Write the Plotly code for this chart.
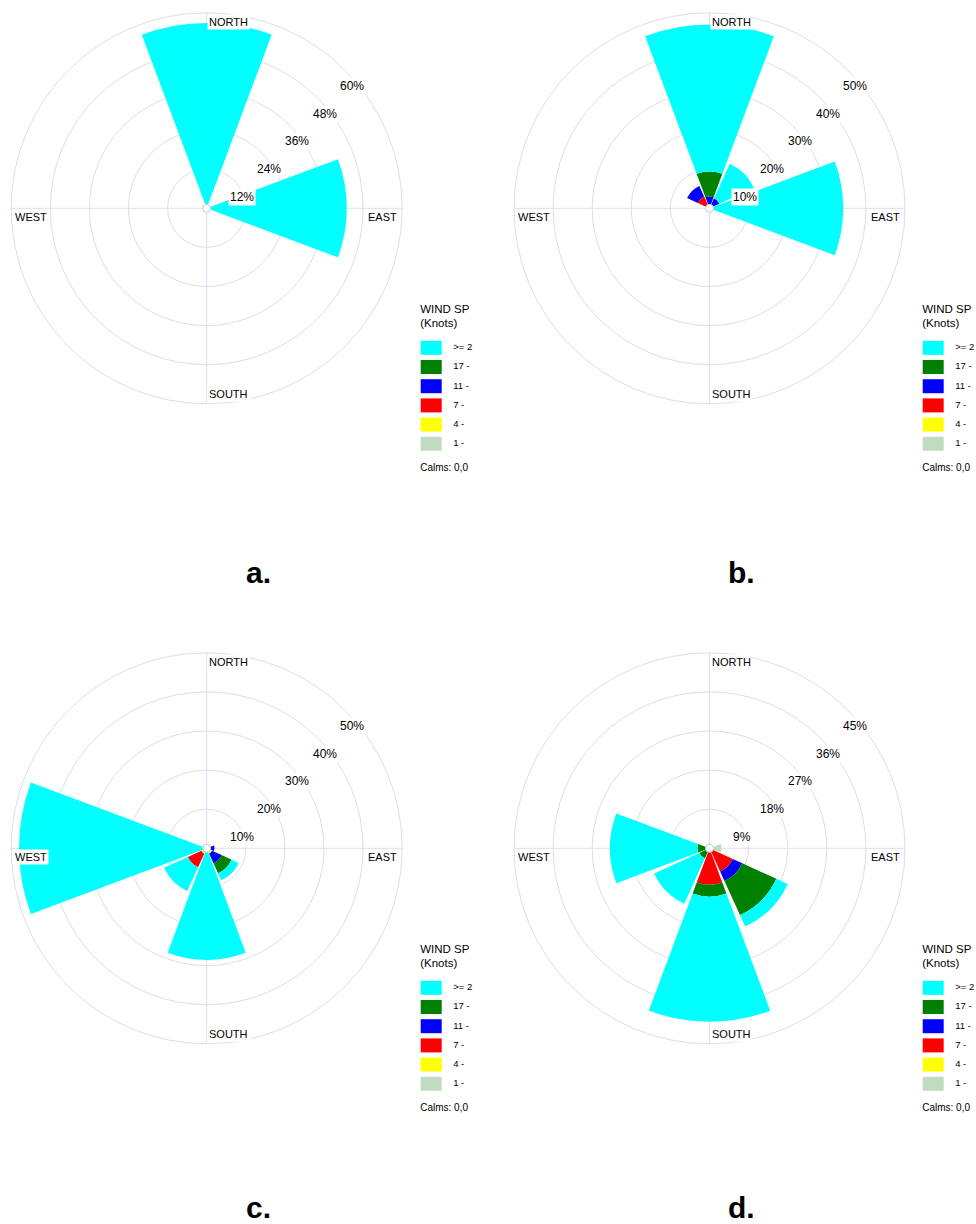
import plotly.graph_objects as go

# ---------------------------------------------------------------- data
DIRECTIONS = ["N", "NE", "E", "SE", "S", "SW", "W", "NW"]
BEARINGS = [0, 45, 90, 135, 180, 225, 270, 315]

# speed classes (knots), innermost first
SPEED_CLASSES = ["1 - 4", "4 - 7", "7 - 11", "11 - 17", "17 - 21", ">= 21"]
CLASS_COLORS = ["#C0DCC0", "#FFFF00", "#FF0000", "#0000FF", "#008000", "#00FFFF"]
# legend text as it appears in the narrow legend strip (top row first)
LEGEND_LABELS = [">= 2", "17 -", "11 -", "7 -", "4 -", "1 -"]
LEGEND_TITLE = ["WIND SP", "(Knots)"]
CALMS_TEXT = "Calms: 0,0"

# frequency (%) by direction, one list per speed class
A_1_4 = [0, 0, 0, 0, 0, 0, 0, 0]
A_4_7 = [0, 0, 0, 0, 0, 0, 0, 0]
A_7_11 = [0, 0, 0, 0, 0, 0, 0, 0]
A_11_17 = [0, 0, 0, 0, 0, 0, 0, 0]
A_17_21 = [0, 0, 0, 0, 0, 0, 0, 0]
A_GE21 = [56.9, 0, 43.0, 0, 0, 0, 0, 0]

B_1_4 = [0, 0, 0, 0, 0, 0, 0, 0]
B_4_7 = [0, 0, 0, 0, 0, 0, 0, 0]
B_7_11 = [0, 0, 0, 0, 0, 0, 0, 3.3]
B_11_17 = [3.0, 2.8, 0, 0, 0, 0, 0, 3.0]
B_17_21 = [6.4, 0, 0, 0, 0, 0, 0, 0]
B_GE21 = [37.6, 9.7, 34.2, 0, 0, 0, 0, 0]

C_1_4 = [0, 0, 0, 0, 0, 0, 0, 0]
C_4_7 = [0, 0, 0, 1.5, 0, 1.5, 0, 0]
C_7_11 = [0, 0, 0, 0, 0, 3.8, 0, 0]
C_11_17 = [0, 0, 2.0, 2.7, 0, 0, 0, 0]
C_17_21 = [0, 0, 0, 2.8, 0, 0, 0, 0]
C_GE21 = [0, 0, 0, 2.0, 28.5, 6.7, 48.0, 0]

D_1_4 = [0, 0, 2.8, 0, 0, 0, 0, 0]
D_4_7 = [0, 0, 0, 0, 0, 0, 0, 0]
D_7_11 = [0, 0, 0, 5.9, 8.4, 0, 0, 0]
D_11_17 = [0, 0, 0, 2.4, 0, 0, 0, 0]
D_17_21 = [0, 0, 0, 8.6, 2.7, 2.6, 2.8, 0]
D_GE21 = [0, 0, 0, 2.9, 28.8, 11.4, 20.1, 0]

A_TICKS = [12, 24, 36, 48, 60]
B_TICKS = [10, 20, 30, 40, 50]
C_TICKS = [10, 20, 30, 40, 50]
D_TICKS = [9, 18, 27, 36, 45]

COMPASS_LABELS = ["NORTH", "EAST", "SOUTH", "WEST"]
PANEL_LETTERS = ["a.", "b.", "c.", "d."]

# ---------------------------------------------------------------- layout
FIG_W, FIG_H = 976, 1224
FONT = "Liberation Sans, Arial, sans-serif"
GRID = "#DCDCF0"
RADIUS = 195.5
SECTOR_WIDTH = 41

panels = [
    dict(series=[A_1_4, A_4_7, A_7_11, A_11_17, A_17_21, A_GE21], ticks=A_TICKS,
         center=(206.7, 208.3), legend_x=(415, 476), letter_x=258.5, letter_y=572, dy=0),
    dict(series=[B_1_4, B_4_7, B_7_11, B_11_17, B_17_21, B_GE21], ticks=B_TICKS,
         center=(709.5, 208.3), legend_x=(917, 976), letter_x=741, letter_y=572, dy=0),
    dict(series=[C_1_4, C_4_7, C_7_11, C_11_17, C_17_21, C_GE21], ticks=C_TICKS,
         center=(206.7, 848.3), legend_x=(415, 476), letter_x=258.5, letter_y=1207, dy=640),
    dict(series=[D_1_4, D_4_7, D_7_11, D_11_17, D_17_21, D_GE21], ticks=D_TICKS,
         center=(709.5, 848.3), legend_x=(917, 976), letter_x=741, letter_y=1207, dy=640),
]


def px(x):
    return x / FIG_W


def py(y):
    return 1 - y / FIG_H


fig = go.Figure()
annotations = []
shapes = []
layout = {}

for i, p in enumerate(panels):
    n = i + 1
    polar_name = "polar" if n == 1 else f"polar{n}"
    cx, cy = p["center"]
    ticks = p["ticks"]

    # stacked wind-rose sectors
    for cls, color, values in zip(SPEED_CLASSES, CLASS_COLORS, p["series"]):
        fig.add_trace(go.Barpolar(
            r=values, theta=BEARINGS, width=SECTOR_WIDTH,
            marker=dict(color=color, line=dict(width=0)),
            name=cls, subplot=polar_name, showlegend=False, hoverinfo="skip",
        ))
    # calm circle in the middle
    fig.add_trace(go.Scatterpolar(
        r=[0], theta=[0], mode="markers", subplot=polar_name,
        marker=dict(size=8, color="white", line=dict(color="#C8C8C8", width=1)),
        showlegend=False, hoverinfo="skip",
    ))

    layout[polar_name] = dict(
        domain=dict(x=[px(cx - RADIUS), px(cx + RADIUS)],
                    y=[py(cy + RADIUS), py(cy - RADIUS)]),
        bgcolor="white",
        barmode="stack",
        angularaxis=dict(direction="clockwise", rotation=90, thetaunit="degrees",
                         tickvals=[0, 90, 180, 270], showticklabels=False, ticks="",
                         gridcolor=GRID, gridwidth=1, showline=True, linecolor=GRID,
                         linewidth=1, layer="below traces"),
        radialaxis=dict(range=[0, ticks[-1]], tickvals=ticks, showticklabels=False,
                        ticks="", gridcolor=GRID, gridwidth=1, showline=False,
                        layer="below traces"),
    )

    # ring labels along the north-east diagonal
    for k, t in enumerate(ticks, start=1):
        d = RADIUS * k / len(ticks) * 0.7071
        annotations.append(dict(
            x=px(cx + d - 6.5), y=py(cy - d + 16), xref="paper", yref="paper",
            xanchor="left", yanchor="middle", text=f"{t}%", showarrow=False,
            bgcolor="white", borderpad=1,
            font=dict(family=FONT, size=12, color="black"),
        ))

    # compass labels
    compass_pos = [
        (cx + 0.5, cy - 186.6, "left"),
        (cx + 192.5, cy + 9, "right"),
        (cx + 0.5, cy + 186, "left"),
        (cx - 194, cy + 9, "left"),
    ]
    for label, (lx, ly, anchor) in zip(COMPASS_LABELS, compass_pos):
        annotations.append(dict(
            x=px(lx), y=py(ly), xref="paper", yref="paper", xanchor=anchor,
            yanchor="middle", text=label, showarrow=False, bgcolor="white",
            borderpad=1, font=dict(family=FONT, size=11, color="black"),
        ))

    # panel letter
    annotations.append(dict(
        x=px(p["letter_x"]), y=py(p["letter_y"]), xref="paper", yref="paper",
        xanchor="center", yanchor="middle", text=f"<b>{PANEL_LETTERS[i]}</b>",
        showarrow=False, borderpad=0, font=dict(family=FONT, size=30, color="black"),
    ))

    # speed legend in its own little cartesian area (pixel units)
    x0, x1 = p["legend_x"]
    lx = x0 + 5.7
    y_top, y_bot = 295 + p["dy"], 480 + p["dy"]
    xa = "xaxis" if n == 1 else f"xaxis{n}"
    ya = "yaxis" if n == 1 else f"yaxis{n}"
    xr = "x" if n == 1 else f"x{n}"
    yr = "y" if n == 1 else f"y{n}"
    layout[xa] = dict(domain=[px(x0), px(x1)], range=[x0, x1], visible=False,
                      fixedrange=True, anchor=yr)
    layout[ya] = dict(domain=[py(y_bot), py(y_top)], range=[y_bot, y_top],
                      visible=False, fixedrange=True, anchor=xr)

    row_y = [347.8 + 19.2 * j + p["dy"] for j in range(len(LEGEND_LABELS))]
    row_colors = CLASS_COLORS[::-1]
    for color, ry in zip(row_colors, row_y):
        shapes.append(dict(type="rect", xref=xr, yref=yr, x0=lx, x1=lx + 21,
                           y0=ry - 7, y1=ry + 7, fillcolor=color,
                           line=dict(color=color, width=0)))
    fig.add_trace(go.Scatter(
        x=[lx + 32.5] * len(row_y), y=row_y, mode="text",
        text=LEGEND_LABELS, textposition="middle right",
        textfont=dict(family=FONT, size=9.5, color="black"),
        cliponaxis=False, xaxis=xr, yaxis=yr, showlegend=False, hoverinfo="skip",
    ))
    fig.add_trace(go.Scatter(
        x=[lx - 0.5, lx - 0.5, lx - 0.5],
        y=[310.5 + p["dy"], 324 + p["dy"], 468 + p["dy"]],
        mode="text", text=LEGEND_TITLE + [CALMS_TEXT], textposition="middle right",
        textfont=dict(family=FONT, size=[11.5, 11.5, 10], color="black"),
        cliponaxis=False, xaxis=xr, yaxis=yr, showlegend=False, hoverinfo="skip",
    ))

fig.update_layout(
    width=FIG_W, height=FIG_H,
    margin=dict(l=0, r=0, t=0, b=0),
    paper_bgcolor="white", plot_bgcolor="white",
    annotations=annotations, shapes=shapes,
    showlegend=False,
    **layout,
)

fig.write_html("out.html")
